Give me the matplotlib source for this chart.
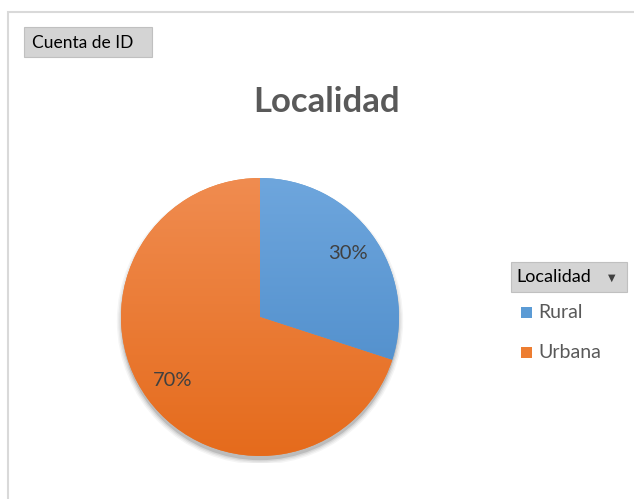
import numpy as np
import matplotlib.pyplot as plt
from matplotlib.patches import Rectangle, Circle
from matplotlib.colors import LinearSegmentedColormap

categorias = ["Rural", "Urbana"]
valores = [30, 70]
colores = ["#5B9BD5", "#ED7D31"]
titulo = "Localidad"

plt.rcParams['font.family'] = ['Lato', 'DejaVu Sans']

fig = plt.figure(figsize=(6.34, 4.99), dpi=100)
fig.patch.set_facecolor('white')

W, H = 634, 499

# borde del área del gráfico
fig.add_artist(Rectangle((8 / W, -0.1), 1.0, (499 - 12) / H + 0.1, transform=fig.transFigure,
                         fill=False, edgecolor='#d9d9d9', lw=1.5))

# pie
cx, cy, r = 260, 317, 139
ax = fig.add_axes([(cx - r * 1.05) / W, (H - cy - r * 1.05) / H, 2.1 * r / W, 2.1 * r / H])
ax.axis('off')

# sombra
for i, a in enumerate([0.04, 0.05, 0.07, 0.12]):
    ax.add_patch(Circle((0.0, -0.03), 1.0 + 0.01 * (3 - i), color='black', alpha=a, lw=0, zorder=0))

wedges, texts, autotexts = ax.pie(valores, colors=colores, startangle=90, counterclock=False,
                                  radius=1.0, autopct='%1.0f%%', pctdistance=0.78,
                                  textprops=dict(color='#404040', fontsize=14.5),
                                  wedgeprops=dict(lw=0))
ax.set_xlim(-1.05, 1.05)
ax.set_ylim(-1.05, 1.05)

# degradado vertical leve sobre cada porción
for w, (top, bot) in zip(wedges, [("#6EA6DD", "#4787C6"), ("#F08C50", "#E56B1C")]):
    cmap = LinearSegmentedColormap.from_list('g', [bot, top])
    im = ax.imshow(np.linspace(0, 1, 256).reshape(-1, 1), extent=[-1, 1, -1, 1], origin='lower',
                   cmap=cmap, zorder=1.5, aspect='auto')
    im.set_clip_path(w)
for t in autotexts:
    t.set_zorder(5)

# título
fig.text(327 / W, 1 - 102 / H, titulo, ha='center', va='center', fontsize=25,
         fontweight='bold', color='#595959')

# botón "Cuenta de ID"
fig.add_artist(Rectangle((24 / W, 1 - 57 / H), 128 / W, 30 / H, transform=fig.transFigure,
                         facecolor='#d4d4d4', edgecolor='#c0c0c0', lw=0.8))
fig.text(32 / W, 1 - 43 / H, "Cuenta de ID", ha='left', va='center', fontsize=12.5,
         color='black')

# leyenda
fig.add_artist(Rectangle((511 / W, 1 - 292 / H), 116 / W, 30 / H, transform=fig.transFigure,
                         facecolor='#d4d4d4', edgecolor='#c0c0c0', lw=0.8))
fig.text(516 / W, 1 - 277 / H, titulo, ha='left', va='center', fontsize=13, color='black')
fig.text(612 / W, 1 - 278 / H, "\u25BC", ha='center', va='center', fontsize=7, color='#404040',
         family=['DejaVu Sans'])
for i, (cat, col) in enumerate(zip(categorias, colores)):
    y = 313 + 40 * i
    fig.add_artist(Rectangle((521 / W, 1 - (y + 5) / H), 11 / W, 11 / H, transform=fig.transFigure,
                             facecolor=col, edgecolor='none'))
    fig.text(538 / W, 1 - y / H, cat, ha='left', va='center', fontsize=14, color='#595959')

fig.savefig('out.png', dpi=100)
